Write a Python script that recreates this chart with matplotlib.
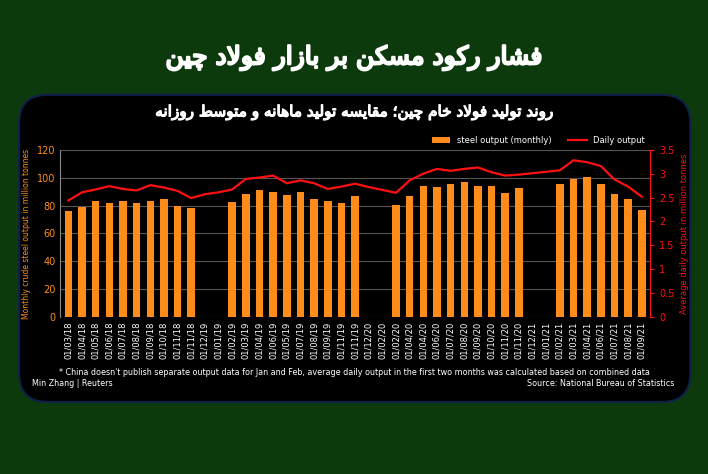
import matplotlib
matplotlib.use('Agg')
import matplotlib.pyplot as plt
import matplotlib.patheffects as pe
from matplotlib.patches import FancyBboxPatch
import numpy as np

# داده‌ها
labels = ['01/03/18', '01/04/18', '01/05/18', '01/06/18', '01/07/18', '01/08/18', '01/09/18',
          '01/10/18', '01/11/18', '01/11/18', '01/12/19', '01/01/19', '01/02/19', '01/03/19',
          '01/04/19', '01/06/19', '01/05/19', '01/07/19', '01/08/19', '01/09/19', '01/11/19',
          '01/11/19', '01/12/20', '01/02/20', '01/02/20', '01/04/20', '01/04/20', '01/06/20',
          '01/07/20', '01/08/20', '01/09/20', '01/10/20', '01/11/20', '01/11/20', '01/12/21',
          '01/01/21', '01/02/21', '01/03/21', '01/04/21', '01/06/21', '01/07/21', '01/08/21',
          '01/09/21']
monthly = [76, 79, 83, 82, 83.5, 82, 83.5, 84.5, 80, 78, np.nan, np.nan,
           82.5, 88, 91.5, 89.5, 87.5, 89.5, 85, 83.5, 82, 86.5, np.nan, np.nan,
           80.6, 86.7, 94, 93.6, 95.7, 96.7, 94.3, 94, 89, 92.6, np.nan, np.nan,
           95.7, 99, 100.8, 95.3, 88, 84.7, 76.5]
daily = [2.44, 2.61, 2.67, 2.74, 2.68, 2.65, 2.76, 2.71, 2.64, 2.49, 2.57, 2.61,
         2.67, 2.89, 2.92, 2.96, 2.80, 2.86, 2.80, 2.68, 2.73, 2.79, 2.72, 2.66,
         2.60, 2.86, 3.00, 3.10, 3.06, 3.10, 3.13, 3.03, 2.96, 2.98, 3.01, 3.04,
         3.07, 3.28, 3.24, 3.16, 2.88, 2.73, 2.52]

# شکل‌دهی ساده حروف فارسی (ایزوله، پایانی، آغازی، میانی)
FORMS = {
    'ا': (0xFE8D, 0xFE8E), 'د': (0xFEA9, 0xFEAA), 'ر': (0xFEAD, 0xFEAE),
    'ز': (0xFEAF, 0xFEB0), 'و': (0xFEED, 0xFEEE),
    'ب': (0xFE8F, 0xFE90, 0xFE91, 0xFE92), 'ت': (0xFE95, 0xFE96, 0xFE97, 0xFE98),
    'چ': (0xFB7A, 0xFB7B, 0xFB7C, 0xFB7D), 'خ': (0xFEA5, 0xFEA6, 0xFEA7, 0xFEA8),
    'س': (0xFEB1, 0xFEB2, 0xFEB3, 0xFEB4), 'ش': (0xFEB5, 0xFEB6, 0xFEB7, 0xFEB8),
    'ط': (0xFEC1, 0xFEC2, 0xFEC3, 0xFEC4), 'ف': (0xFED1, 0xFED2, 0xFED3, 0xFED4),
    'ق': (0xFED5, 0xFED6, 0xFED7, 0xFED8), 'ک': (0xFB8E, 0xFB8F, 0xFB90, 0xFB91),
    'ل': (0xFEDD, 0xFEDE, 0xFEDF, 0xFEE0), 'م': (0xFEE1, 0xFEE2, 0xFEE3, 0xFEE4),
    'ن': (0xFEE5, 0xFEE6, 0xFEE7, 0xFEE8), 'ه': (0xFEE9, 0xFEEA, 0xFEEB, 0xFEEC),
    'ی': (0xFBFC, 0xFBFD, 0xFBFE, 0xFBFF),
}


def fa(s):
    s = s.replace('لا', '\uE000')
    out = []
    for i, c in enumerate(s):
        prev = s[i - 1] if i > 0 else ' '
        nxt = s[i + 1] if i + 1 < len(s) else ' '
        pj = prev in FORMS and len(FORMS[prev]) == 4
        if c == '\uE000':
            out.append(chr(0xFEFC if pj else 0xFEFB))
            continue
        if c not in FORMS:
            out.append(c)
            continue
        f = FORMS[c]
        nj = len(f) == 4 and (nxt in FORMS or nxt == '\uE000')
        idx = (3 if nj else 1) if pj else (2 if nj else 0)
        out.append(chr(f[idx]))
    return ''.join(out)[::-1]


BG = '#0c3a0c'
ORANGE = '#ff8c1a'
RED = '#ff1010'

fig = plt.figure(figsize=(7.08, 4.74), dpi=100)
fig.patch.set_facecolor(BG)

box = FancyBboxPatch((0.027, 0.152), 0.948, 0.648, boxstyle='round,pad=0,rounding_size=0.04',
                     transform=fig.transFigure, facecolor='black', edgecolor='#10204a', lw=1.5,
                     mutation_aspect=708 / 474, zorder=-5)
fig.patches.append(box)

fig.text(0.5, 0.878, fa('فشار رکود مسکن بر بازار فولاد چین'), color='white', fontsize=18,
         ha='center', va='center', family='DejaVu Sans',
         path_effects=[pe.withStroke(linewidth=1.6, foreground='white')])
fig.text(0.5, 0.762, fa('روند تولید فولاد خام چین؛ مقایسه تولید ماهانه و متوسط روزانه'), color='white',
         fontsize=11, ha='center', va='center', family='DejaVu Sans',
         path_effects=[pe.withStroke(linewidth=0.9, foreground='white')])

ax = fig.add_axes([0.085, 0.331, 0.833, 0.353])
ax.set_facecolor('black')
x = np.arange(len(labels))
b = ax.bar(x, monthly, width=0.55, color=ORANGE, label='steel output (monthly)', zorder=2)
ax.set_ylim(0, 120)
ax.set_yticks(range(0, 121, 20))
ax.set_xlim(-0.6, len(labels) - 0.4)
ax.set_xticks(x)
ax.set_xticklabels(labels, rotation=90, fontsize=6, color='white')
ax.tick_params(axis='y', colors=ORANGE, labelsize=7, length=0)
ax.tick_params(axis='x', length=0, pad=3)
ax.grid(axis='y', color='#555555', lw=0.8, zorder=0)
for sp in ax.spines.values():
    sp.set_visible(False)
ax.spines['left'].set_visible(True)
ax.spines['left'].set_color('#888888')
ax.set_ylabel('Monthly crude steel output in million tonnes', color=ORANGE, fontsize=5.5)

ax2 = ax.twinx()
l, = ax2.plot(x, daily, color=RED, lw=1.6, label='Daily output', zorder=3)
ax2.set_ylim(0, 3.5)
ax2.set_yticks([0, 0.5, 1, 1.5, 2, 2.5, 3, 3.5])
ax2.set_yticklabels(['0', '0.5', '1', '1.5', '2', '2.5', '3', '3.5'])
ax2.tick_params(axis='y', colors=RED, labelsize=7, length=3)
for sp in ax2.spines.values():
    sp.set_visible(False)
ax2.spines['right'].set_visible(True)
ax2.spines['right'].set_color(RED)
ax2.set_ylabel('Average daily output in million tonnes', color=RED, fontsize=6)

ax.legend([b, l], ['steel output (monthly)', 'Daily output'], loc='lower right',
          bbox_to_anchor=(1.0, 1.0), ncol=2, frameon=False, fontsize=6, labelcolor='white',
          handlelength=2.2, borderaxespad=0.2)

fig.text(0.5, 0.215, "* China doesn't publish separate output data for Jan and Feb, average daily output "
         "in the first two months was calculated based on combined data", color='white',
         fontsize=5.8, ha='center', va='center')
fig.text(0.045, 0.19, 'Min Zhang | Reuters', color='white', fontsize=5.8, ha='left', va='center')
fig.text(0.953, 0.19, 'Source: National Bureau of Statistics', color='white', fontsize=5.8,
         ha='right', va='center')

plt.savefig('out.png', dpi=100, facecolor=BG)
